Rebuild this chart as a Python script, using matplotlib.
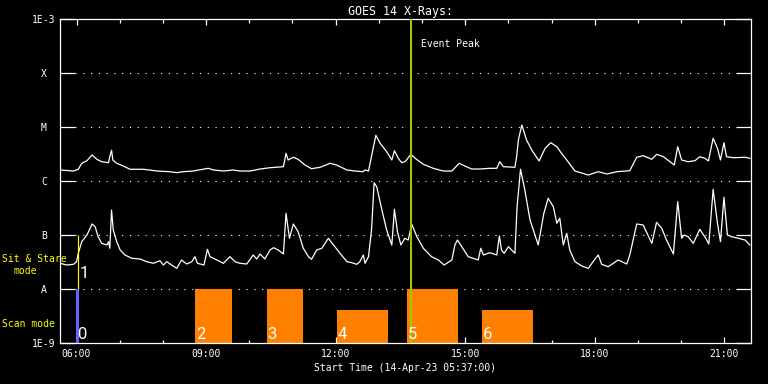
import numpy as np
import matplotlib
matplotlib.use("Agg")
import matplotlib.pyplot as plt
from matplotlib.ticker import FixedLocator, NullLocator

plt.rcParams['font.family'] = ['DejaVu Sans Mono', 'DejaVu Sans']

# ---------------- data ----------------
title = "GOES 14 X-Rays:"
xlabel = "Start Time (14-Apr-23 05:37:00)"
x_start, x_end = 5 + 37 / 60, 21 + 37 / 60
xtick_hours = [6, 9, 12, 15, 18, 21]
xtick_labels = ["06:00", "09:00", "12:00", "15:00", "18:00", "21:00"]
minor_hours = list(range(6, 22))
ytick_values = [1e-9, 1e-8, 1e-7, 1e-6, 1e-5, 1e-4, 1e-3]
ytick_labels = ["1E-9", "A", "B", "C", "M", "X", "1E-3"]

# long channel (1-8 A), hours of day and log10 flux
long_hours = [5.62, 5.93, 6.04, 6.12, 6.24, 6.36, 6.47, 6.58, 6.74, 6.77, 6.81, 6.84, 6.93,
              7.08, 7.24, 7.55, 7.86, 8.16, 8.32, 8.47, 8.70, 9.05, 9.17, 9.40, 9.63, 9.78,
              10.02, 10.25, 10.48, 10.79, 10.85, 10.90, 11.02, 11.13, 11.29, 11.44, 11.64,
              11.87, 12.02, 12.26, 12.45, 12.63, 12.68, 12.76, 12.86, 12.93, 13.03, 13.18,
              13.30, 13.36, 13.45, 13.53, 13.60, 13.64, 13.74, 13.84, 14.03, 14.26, 14.49,
              14.69, 14.86, 14.99, 15.15, 15.34, 15.57, 15.73, 15.80, 15.88, 16.15, 16.19,
              16.23, 16.31, 16.42, 16.54, 16.71, 16.85, 16.98, 17.12, 17.23, 17.35, 17.54,
              17.85, 18.08, 18.28, 18.51, 18.81, 18.97, 19.12, 19.32, 19.43, 19.59, 19.74,
              19.84, 19.92, 20.01, 20.16, 20.32, 20.43, 20.55, 20.63, 20.74, 20.84, 20.91,
              20.99, 21.05, 21.21, 21.48, 21.59]
long_log_flux = [-5.796, -5.815, -5.783, -5.672, -5.624, -5.518, -5.598, -5.643, -5.661, -5.550,
                 -5.431, -5.611, -5.672, -5.722, -5.783, -5.783, -5.815, -5.828, -5.846, -5.828,
                 -5.815, -5.765, -5.796, -5.815, -5.796, -5.815, -5.815, -5.778, -5.754, -5.735,
                 -5.487, -5.611, -5.561, -5.598, -5.704, -5.772, -5.746, -5.672, -5.704, -5.796,
                 -5.815, -5.828, -5.796, -5.815, -5.426, -5.154, -5.302, -5.457, -5.611, -5.439,
                 -5.580, -5.661, -5.643, -5.611, -5.506, -5.580, -5.691, -5.765, -5.815, -5.815,
                 -5.672, -5.722, -5.778, -5.778, -5.765, -5.765, -5.643, -5.735, -5.746, -5.550,
                 -5.241, -4.963, -5.241, -5.426, -5.629, -5.394, -5.291, -5.365, -5.487, -5.611,
                 -5.815, -5.889, -5.828, -5.870, -5.828, -5.809, -5.561, -5.531, -5.598, -5.506,
                 -5.550, -5.643, -5.704, -5.365, -5.611, -5.643, -5.624, -5.550, -5.580, -5.629,
                 -5.209, -5.394, -5.611, -5.291, -5.550, -5.569, -5.561, -5.580]

# short channel (0.5-4 A)
short_hours = [5.62, 5.77, 5.93, 6.00, 6.04, 6.12, 6.24, 6.36, 6.43, 6.50, 6.58, 6.70, 6.74,
               6.77, 6.81, 6.85, 6.93, 7.01, 7.12, 7.28, 7.47, 7.62, 7.78, 7.93, 8.01, 8.09,
               8.20, 8.32, 8.43, 8.55, 8.67, 8.74, 8.80, 8.95, 9.03, 9.09, 9.25, 9.40, 9.55,
               9.67, 9.78, 9.94, 10.09, 10.17, 10.25, 10.36, 10.48, 10.56, 10.67, 10.79, 10.85,
               10.93, 11.02, 11.13, 11.25, 11.37, 11.44, 11.56, 11.68, 11.83, 11.98, 12.10,
               12.26, 12.37, 12.49, 12.56, 12.64, 12.68, 12.76, 12.83, 12.89, 12.95, 13.07,
               13.18, 13.30, 13.36, 13.43, 13.51, 13.60, 13.68, 13.76, 13.88, 14.03, 14.22,
               14.38, 14.51, 14.69, 14.76, 14.82, 14.92, 15.07, 15.30, 15.36, 15.42, 15.57,
               15.73, 15.79, 15.84, 15.90, 16.00, 16.15, 16.20, 16.28, 16.38, 16.50, 16.69,
               16.82, 16.92, 17.04, 17.12, 17.19, 17.27, 17.35, 17.42, 17.54, 17.70, 17.85,
               18.00, 18.08, 18.16, 18.31, 18.54, 18.74, 18.81, 18.97, 19.12, 19.32, 19.43,
               19.55, 19.66, 19.82, 19.92, 20.01, 20.07, 20.16, 20.28, 20.43, 20.57, 20.64,
               20.74, 20.84, 20.91, 20.99, 21.07, 21.17, 21.32, 21.48, 21.59]
short_log_flux = [-7.524, -7.556, -7.543, -7.494, -7.339, -7.124, -7.000, -6.796, -6.846, -7.031,
                  -7.154, -7.185, -7.124, -7.246, -6.537, -6.907, -7.124, -7.278, -7.370, -7.431,
                  -7.444, -7.494, -7.524, -7.476, -7.556, -7.494, -7.556, -7.617, -7.463, -7.537,
                  -7.494, -7.402, -7.524, -7.556, -7.265, -7.402, -7.463, -7.524, -7.402, -7.494,
                  -7.524, -7.537, -7.370, -7.444, -7.352, -7.444, -7.278, -7.235, -7.278, -7.352,
                  -6.598, -7.061, -6.796, -6.939, -7.246, -7.402, -7.450, -7.278, -7.246, -7.061,
                  -7.217, -7.339, -7.494, -7.513, -7.543, -7.494, -7.370, -7.524, -7.402, -6.907,
                  -6.031, -6.106, -6.537, -6.907, -7.185, -6.524, -6.939, -7.185, -7.061, -7.093,
                  -6.796, -7.031, -7.246, -7.402, -7.463, -7.556, -7.463, -7.185, -7.093, -7.217,
                  -7.402, -7.463, -7.246, -7.370, -7.328, -7.370, -7.018, -7.278, -7.339, -7.217,
                  -7.339, -6.476, -5.783, -6.167, -6.722, -7.185, -6.598, -6.320, -6.476, -6.783,
                  -6.691, -7.185, -6.969, -7.278, -7.494, -7.574, -7.617, -7.450, -7.370, -7.543,
                  -7.587, -7.463, -7.537, -7.370, -6.796, -6.815, -7.154, -6.765, -6.876, -7.093,
                  -7.352, -6.383, -7.061, -7.000, -7.031, -7.154, -6.894, -7.061, -7.167, -6.154,
                  -6.783, -7.124, -6.302, -7.000, -7.031, -7.061, -7.093, -7.185]

event_peak_hour = 13.74
scan_ids = ["2", "3", "4", "5", "6"]
scan_start = [8.75, 10.40, 12.03, 13.65, 15.39]
scan_end = [9.60, 11.24, 13.21, 14.83, 16.56]
scan_top = [1e-8, 1e-8, 4.1e-9, 1e-8, 4.1e-9]
scan0_hour = 6.01
sitstare_hour = 6.03

# ---------------- figure ----------------
W, H = 768, 384
fig = plt.figure(figsize=(W / 100, H / 100), dpi=100, facecolor='black')
ax = fig.add_axes([60 / W, 1 - 343 / H, 691 / W, 324 / H])
ax.set_facecolor('black')
ax.set_yscale('log')
ax.set_xlim(x_start, x_end)
ax.set_ylim(1e-9, 1e-3)

px = 0.72  # one pixel in points

for s in ax.spines.values():
    s.set_color('white')
    s.set_linewidth(0.9)

# dotted level lines
for v in ytick_values[1:-1]:
    ax.axhline(v, xmin=15 / 691, xmax=1 - 15 / 691, color='white', lw=0.8,
               linestyle=(0, (1, 6)), zorder=1)

# curves
ax.plot(long_hours, 10 ** np.array(long_log_flux), color='white', lw=0.9, zorder=3)
ax.plot(short_hours, 10 ** np.array(short_log_flux), color='white', lw=0.9, zorder=3)

num_font = dict(family=['Roboto', 'DejaVu Sans'], fontsize=12)

# scan bars
for sid, s0, s1, top in zip(scan_ids, scan_start, scan_end, scan_top):
    ax.bar(s0, top - 1e-9, width=s1 - s0, bottom=1e-9, align='edge',
           color='#ff8000', edgecolor='none', zorder=2)
    ax.annotate(sid, xy=(s0, 1e-9), xytext=(1 * px, 4 * px), textcoords='offset points',
                color='white', ha='left', va='baseline', zorder=6, **num_font)

ax.vlines(scan0_hour, 1e-9, 1e-8, color='#6464ff', lw=3 * px, zorder=4)
ax.annotate("0", xy=(scan0_hour, 1e-9), xytext=(0.5 * px, 4 * px), textcoords='offset points',
            color='white', ha='left', va='baseline', zorder=6, **num_font)
ax.vlines(sitstare_hour, 1e-8, 1e-7, color='yellow', lw=1.2 * px, zorder=4)
ax.annotate("1", xy=(sitstare_hour, 1e-8), xytext=(2 * px, 11 * px), textcoords='offset points',
            color='white', ha='left', va='baseline', zorder=6, **num_font)

# event peak
ax.axvline(event_peak_hour, color='#9acd00', lw=2 * px, zorder=5)
ax.annotate("Event Peak", xy=(event_peak_hour, 1e-3), xytext=(10 * px, -28 * px),
            textcoords='offset points', color='white', fontsize=7, ha='left', va='baseline')

# ticks
ax.xaxis.set_major_locator(FixedLocator(xtick_hours))
ax.xaxis.set_minor_locator(FixedLocator(minor_hours))
ax.set_xticklabels(xtick_labels)
ax.tick_params(axis='x', which='major', direction='in', length=6 * px, width=0.9,
               colors='white', top=True, bottom=True, pad=4, labelsize=7)
ax.tick_params(axis='x', which='minor', direction='in', length=3.5 * px, width=0.9,
               colors='white', top=True, bottom=True)
ax.yaxis.set_major_locator(FixedLocator(ytick_values))
ax.yaxis.set_minor_locator(NullLocator())
ax.set_yticklabels(ytick_labels)
ax.tick_params(axis='y', which='major', direction='in', length=15 * px, width=0.9,
               colors='white', left=True, right=True, pad=16 * px, labelsize=7)
for lbl in ax.get_yticklabels():
    lbl.set_ha('center')

# texts in figure pixels
def ftext(x, y, s, **kw):
    fig.text(x / W, 1 - y / H, s, **kw)

ftext(401, 15, title, color='white', fontsize=8.4, ha='center', va='baseline')
ftext(405, 371, xlabel, color='white', fontsize=7, ha='center', va='baseline')
ftext(2, 262, "Sit & Stare", color='yellow', fontsize=7, ha='left', va='baseline')
ftext(13, 274, "mode", color='yellow', fontsize=7, ha='left', va='baseline')
ftext(2, 327, "Scan mode", color='yellow', fontsize=7, ha='left', va='baseline')

fig.savefig("out.png", dpi=100, facecolor='black')
